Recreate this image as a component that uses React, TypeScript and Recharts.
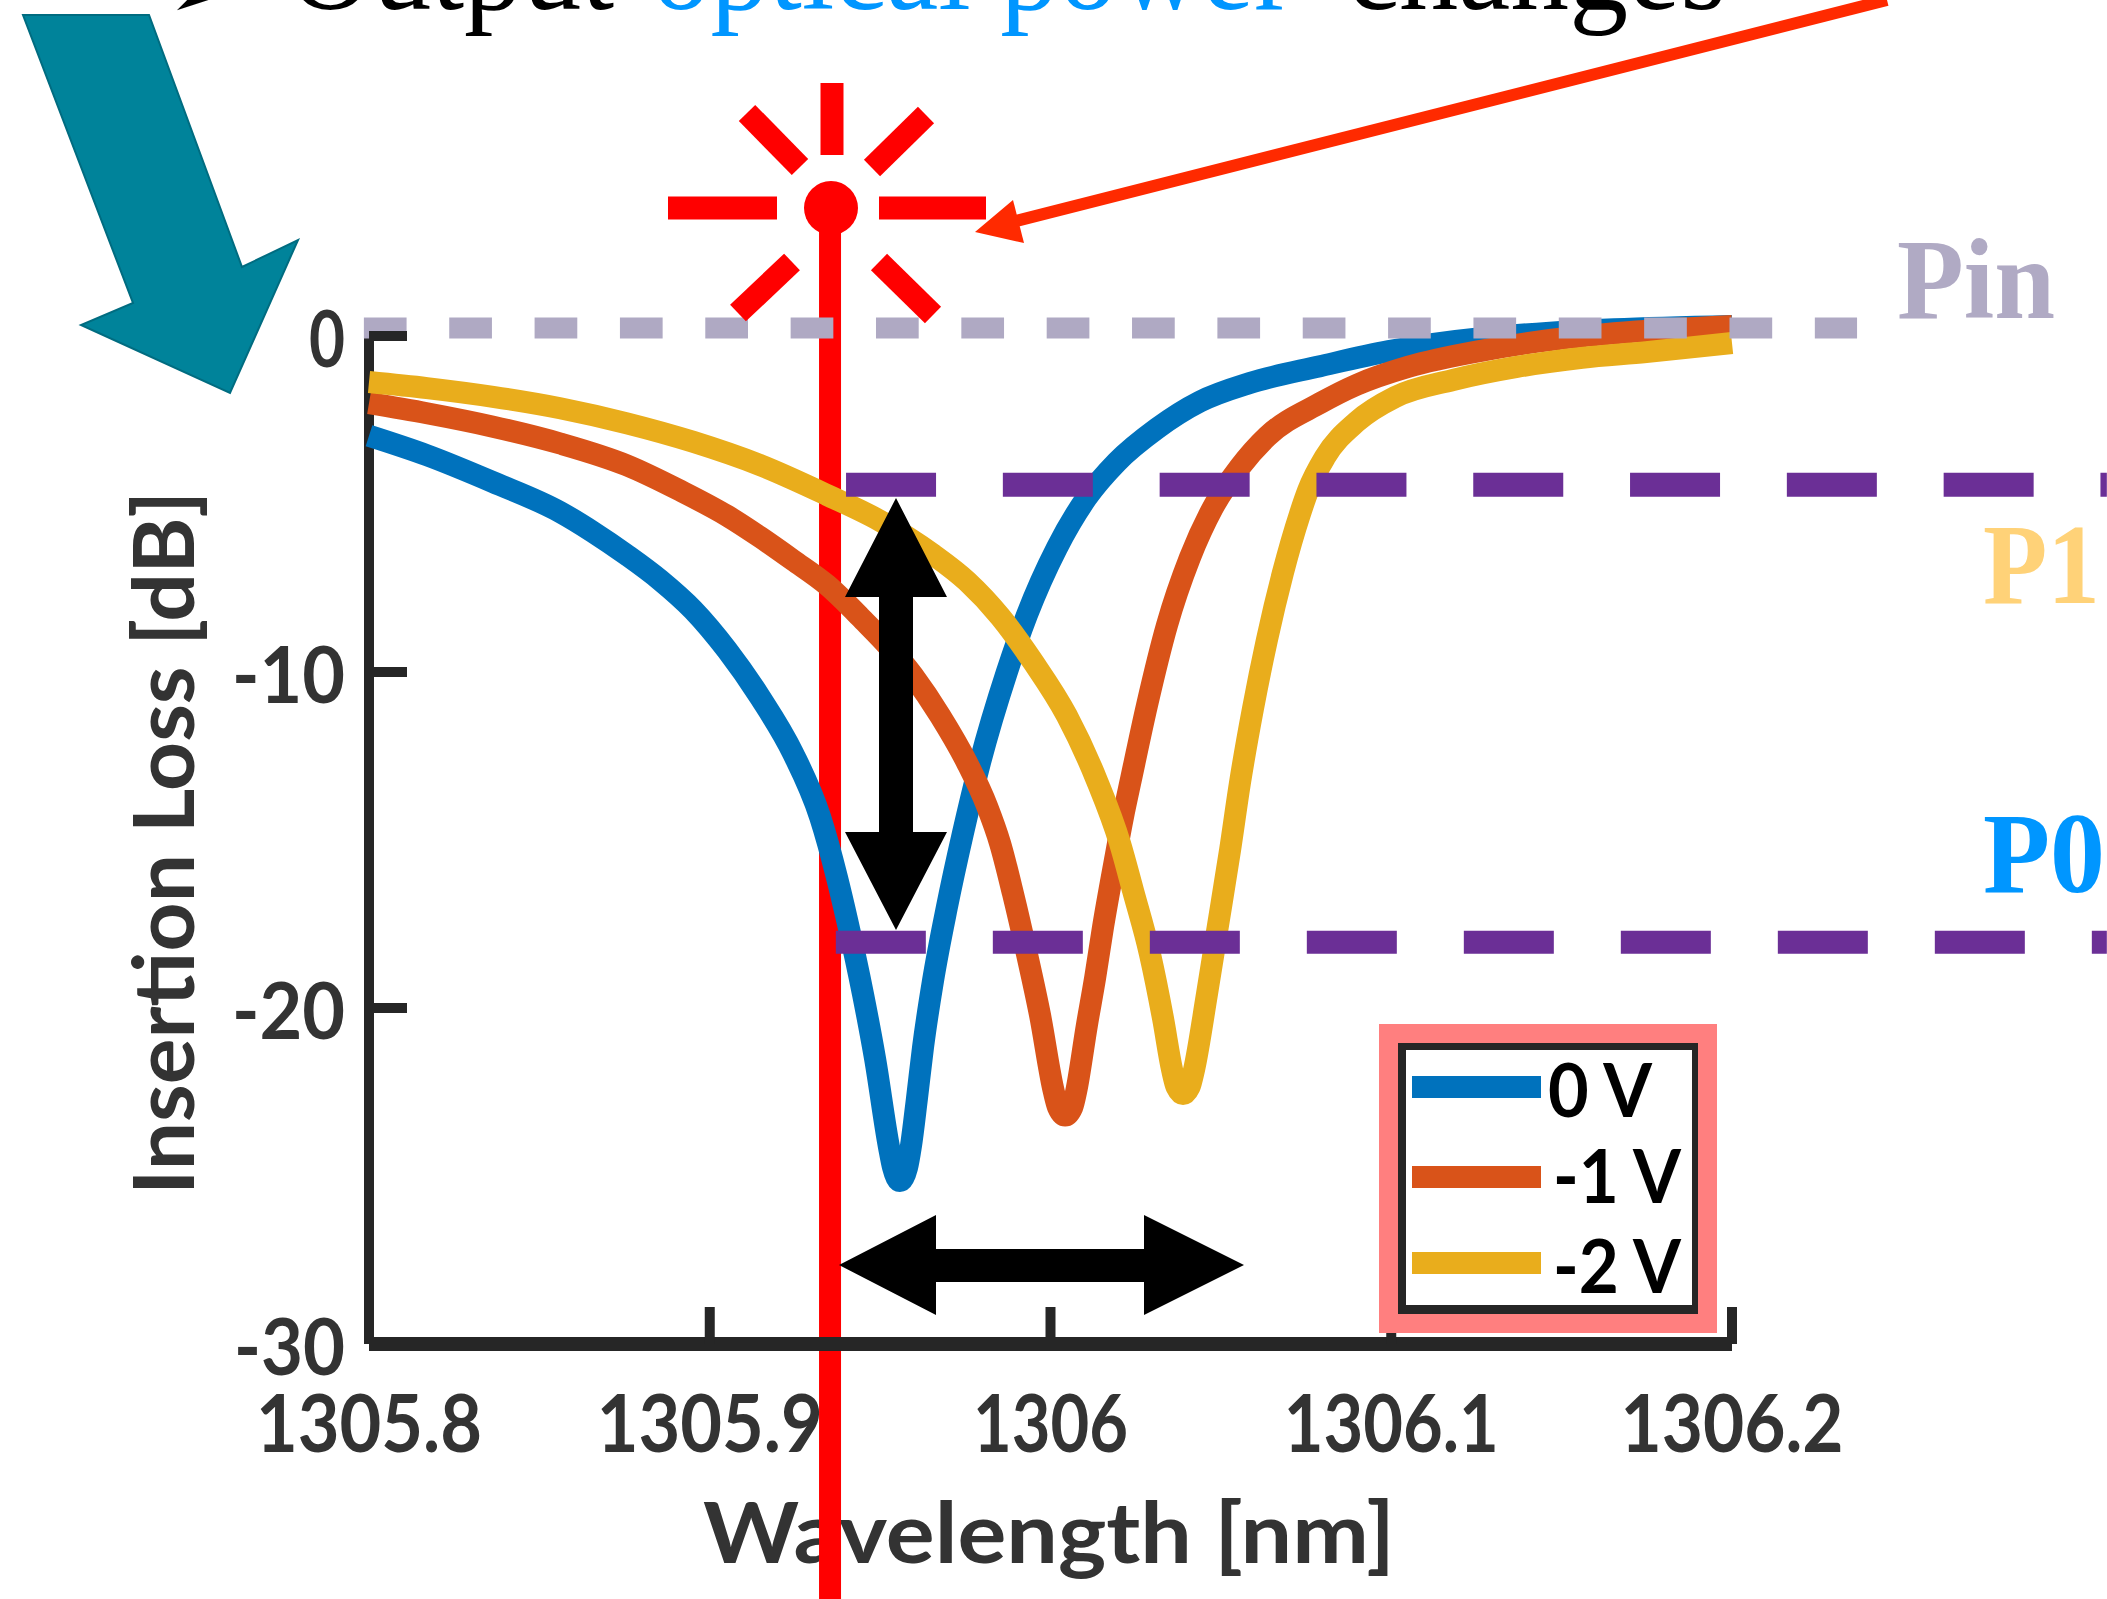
import React from 'react';
import { ComposedChart, Line, XAxis, YAxis, ReferenceLine, Legend } from 'recharts';

const blueX = [1305.8, 1305.817, 1305.8364, 1305.8561, 1305.8657, 1305.8757, 1305.8854, 1305.8951, 1305.9051, 1305.9147, 1305.9244, 1305.9324, 1305.9373, 1305.9403, 1305.945, 1305.9485, 1305.9526, 1305.9538, 1305.9558, 1305.9579, 1305.959, 1305.9608, 1305.9626, 1305.9655, 1305.9696, 1305.9743, 1305.9793, 1305.9872, 1305.9931, 1306.0019, 1306.0107, 1306.0195, 1306.0313, 1306.0439, 1306.0585, 1306.0791, 1306.0993, 1306.1275, 1306.1466, 1306.1654, 1306.2];
const blueY = [-2.97, -3.55, -4.35, -5.24, -5.83, -6.52, -7.26, -8.15, -9.35, -10.74, -12.41, -14.32, -16.1, -17.38, -19.6, -21.5, -24.14, -24.75, -25.15, -24.75, -24.14, -22.7, -21.16, -19.2, -17.0, -14.8, -12.7, -10.0, -8.3, -6.3, -4.8, -3.75, -2.75, -1.95, -1.4, -0.9, -0.45, -0.05, 0.1, 0.2, 0.3];
const orangeX = [1305.8, 1305.817, 1305.8364, 1305.8561, 1305.8757, 1305.8913, 1305.9051, 1305.9147, 1305.9244, 1305.9344, 1305.9441, 1305.9596, 1305.9676, 1305.9755, 1305.9814, 1305.9852, 1305.989, 1305.9931, 1305.9969, 1306.001, 1306.0022, 1306.0043, 1306.0064, 1306.0075, 1306.0107, 1306.0131, 1306.0154, 1306.0189, 1306.0213, 1306.0236, 1306.0283, 1306.0342, 1306.0409, 1306.0477, 1306.0556, 1306.0635, 1306.0791, 1306.0899, 1306.1049, 1306.1275, 1306.1466, 1306.1654, 1306.2];
const orangeY = [-2.0, -2.3, -2.7, -3.2, -3.85, -4.6, -5.35, -5.98, -6.67, -7.41, -8.36, -10.1, -11.3, -12.7, -14.0, -15.1, -16.6, -18.4, -20.2, -22.5, -22.95, -23.2, -22.95, -22.5, -20.5, -19.1, -17.6, -15.6, -14.3, -13.2, -11.0, -8.6, -6.6, -5.1, -3.9, -3.0, -2.0, -1.45, -0.92, -0.42, -0.12, 0.08, 0.3];
const yellowX = [1305.8, 1305.817, 1305.8364, 1305.8561, 1305.8757, 1305.8951, 1305.9147, 1305.9344, 1305.95, 1305.9655, 1305.9755, 1305.9852, 1305.9949, 1306.0048, 1306.0135, 1306.0204, 1306.0242, 1306.0292, 1306.033, 1306.0357, 1306.037, 1306.0389, 1306.0408, 1306.0421, 1306.0459, 1306.0489, 1306.0527, 1306.0556, 1306.0594, 1306.0635, 1306.0682, 1306.0732, 1306.0756, 1306.0806, 1306.0899, 1306.1011, 1306.1181, 1306.1369, 1306.156, 1306.1748, 1306.2];
const yellowY = [-1.37, -1.55, -1.81, -2.15, -2.6, -3.15, -3.84, -4.73, -5.5, -6.5, -7.3, -8.35, -9.7, -11.3, -13.2, -15.1, -16.5, -18.4, -20.3, -21.85, -22.35, -22.56, -22.35, -21.85, -19.6, -17.7, -15.3, -13.3, -11.1, -9.05, -7.05, -5.3, -4.6, -3.6, -2.55, -1.82, -1.31, -0.92, -0.65, -0.48, -0.21];

const seriesNames = ['0 V', '-1 V', '-2 V'];
const xTicks = [1305.8, 1305.9, 1306, 1306.1, 1306.2];
const yTicks = [0, -10, -20, -30];
const pinLevel = 0.24;
const p1Level = -4.43;
const p0Level = -18.04;
const operatingWavelength = 1305.9353;

const BLUE = '#0072BD';
const ORANGE = '#D95319';
const YELLOW = '#E9AD1C';
const AXIS = '#262626';
const SANS = 'Lato, sans-serif';
const SERIF = '"Liberation Serif", serif';

const zip = (xs: number[], ys: number[]) => xs.map((x, i) => ({ x, y: ys[i] }));

const xWidths: Record<string, number> = { '1305.8': 226, '1305.9': 226, '1306': 155, '1306.1': 215, '1306.2': 223 };
const yWidths: Record<string, number> = { '0': 36, '-10': 113, '-20': 113, '-30': 111 };

const XTick = (p: any) => {
  const v = String(p.payload.value);
  return (
    <g>
      <line x1={p.x} x2={p.x} y1={1344} y2={1307} stroke={AXIS} strokeWidth={10} />
      <text x={p.x} y={1452} textAnchor="middle" fontFamily={SANS} fontWeight={700} fontSize={80} fill="#333"
        textLength={xWidths[v]} lengthAdjust="spacingAndGlyphs">{v}</text>
    </g>
  );
};

const YTick = (p: any) => {
  const v = String(p.payload.value);
  return (
    <g>
      <line x1={369} x2={407} y1={p.y} y2={p.y} stroke={AXIS} strokeWidth={10} />
      <text x={345} y={p.y + 31} textAnchor="end" fontFamily={SANS} fontWeight={700} fontSize={78} fill="#333"
        textLength={yWidths[v]} lengthAdjust="spacingAndGlyphs">{v}</text>
    </g>
  );
};

const legendRows = [
  { lineY: 63, base: 93, tx: 169, tw: 104 },
  { lineY: 153, base: 179, tx: 174, tw: 128 },
  { lineY: 239, base: 269, tx: 174, tw: 128 },
];

const LegendBox = (p: any) => (
  <svg width={338} height={309} style={{ display: 'block' }}>
    <rect x={0} y={0} width={338} height={309} fill="#FF7F7F" />
    <rect x={19} y={19} width={300} height={271} fill="#262626" />
    <rect x={27} y={26} width={286} height={255} fill="#fff" />
    {(p.payload || []).map((it: any, i: number) => (
      <g key={it.value}>
        <rect x={33} y={legendRows[i].lineY - 11} width={129} height={22} fill={it.color} />
        <text x={legendRows[i].tx} y={legendRows[i].base} fontFamily={SANS} fontWeight={700} fontSize={74} fill="#000"
          textLength={legendRows[i].tw} lengthAdjust="spacingAndGlyphs">{it.value}</text>
      </g>
    ))}
  </svg>
);

const Overlay = () => (
  <svg width={2107} height={1599} style={{ position: 'absolute', left: 0, top: 0, pointerEvents: 'none' }}>
    <text x={163} y={22} fontFamily="DejaVu Sans" fontSize={125} fill="#000">➢</text>
    <text x={288} y={9} fontFamily={SERIF} fontSize={125} fill="#000" textLength={326} lengthAdjust="spacingAndGlyphs">Output</text>
    <text x={652} y={9} fontFamily={SERIF} fontSize={125} fill="#0096FF" textLength={641} lengthAdjust="spacingAndGlyphs">optical power</text>
    <text x={1347} y={9} fontFamily={SERIF} fontSize={125} fill="#000" textLength={379} lengthAdjust="spacingAndGlyphs">changes</text>

    <polygon points="23,15 149,15 242,267 298,240 230,393 81,325 133,303" fill="#00839A" stroke="#006C80" strokeWidth={2} />

    <line x1={1887} y1={0} x2={1012} y2={222} stroke="#FF2A00" strokeWidth={12} />
    <polygon points="975,232 1013,200 1024,243" fill="#FF2A00" />

    <g stroke="#FF0000" strokeWidth={23}>
      <line x1={832} y1={83} x2={832} y2={155} />
      <line x1={668} y1={208} x2={777} y2={208} />
      <line x1={879} y1={208} x2={986} y2={208} />
      <line x1={747} y1={113} x2={800} y2={167} />
      <line x1={926} y1={115} x2={872} y2={168} />
      <line x1={792} y1={262} x2={738} y2={313} />
      <line x1={879} y1={262} x2={933} y2={315} />
    </g>
    <circle cx={831} cy={208} r={27} fill="#FF0000" />

    <polygon points="896,498 947,597 913,597 913,832 947,832 896,930 845,832 879,832 879,597 845,597" fill="#000" />
    <polygon points="839,1265 936,1215 936,1249 1144,1249 1144,1215 1244,1265 1144,1315 1144,1282 936,1282 936,1315" fill="#000" />

    <text x={1897} y={318} fontFamily={SERIF} fontWeight={700} fontSize={114} fill="#B0AAC4" textLength={158} lengthAdjust="spacingAndGlyphs">Pin</text>
    <text x={1983} y={603} fontFamily={SERIF} fontWeight={700} fontSize={115} fill="#FFD278" textLength={117} lengthAdjust="spacingAndGlyphs">P1</text>
    <text x={1983} y={892} fontFamily={SERIF} fontWeight={700} fontSize={115} fill="#0096FF" textLength={122} lengthAdjust="spacingAndGlyphs">P0</text>
  </svg>
);

export default function App() {
  return (
    <div style={{ position: 'absolute', left: 0, top: 0, width: 2107, height: 1599, background: '#fff', overflow: 'hidden' }}>
      <ComposedChart width={2107} height={1599} margin={{ left: 368, right: 375, top: 302.4, bottom: 254 }}>
        <text x={1049} y={1563} textAnchor="middle" fontFamily={SANS} fontWeight={700} fontSize={84} fill="#333" textLength={692} lengthAdjust="spacingAndGlyphs">Wavelength [nm]</text>
        <text transform="translate(194,843) rotate(-90)" textAnchor="middle" fontFamily={SANS} fontWeight={700} fontSize={84} fill="#333" textLength={704} lengthAdjust="spacingAndGlyphs">Insertion Loss [dB]</text>
        <XAxis dataKey="x" type="number" domain={[1305.8, 1306.2]} ticks={xTicks} interval={0} height={1} tickSize={0} tickMargin={0}
          axisLine={{ stroke: AXIS, strokeWidth: 14 }} tickLine={false} tick={<XTick />} />
        <YAxis type="number" domain={[-30, 1]} ticks={yTicks} interval={0} width={1} tickSize={0} tickMargin={0}
          axisLine={false} tickLine={false} tick={<YTick />} />
        <ReferenceLine segment={[{ x: 1305.8, y: 0 }, { x: 1305.8, y: -30 }]} ifOverflow="visible" stroke={AXIS} strokeWidth={10} />
        <ReferenceLine segment={[{ x: operatingWavelength, y: 3.8 }, { x: operatingWavelength, y: -37.6 }]} ifOverflow="visible" stroke="#FF0000" strokeWidth={22} />
        <Line data={zip(blueX, blueY)} dataKey="y" name={seriesNames[0]} type="monotone" stroke={BLUE} strokeWidth={22} dot={false} strokeLinejoin="round" isAnimationActive={false} />
        <Line data={zip(orangeX, orangeY)} dataKey="y" name={seriesNames[1]} type="monotone" stroke={ORANGE} strokeWidth={22} dot={false} strokeLinejoin="round" isAnimationActive={false} />
        <Line data={zip(yellowX, yellowY)} dataKey="y" name={seriesNames[2]} type="monotone" stroke={YELLOW} strokeWidth={22} dot={false} strokeLinejoin="round" isAnimationActive={false} />
        <ReferenceLine segment={[{ x: 1305.7985, y: pinLevel }, { x: 1306.2367, y: pinLevel }]} ifOverflow="visible" stroke="#AFA9C3" strokeWidth={21} strokeDasharray="42.7 42.65" />
        <ReferenceLine segment={[{ x: 1305.94, y: p1Level }, { x: 1306.31, y: p1Level }]} ifOverflow="visible" stroke="#6B2F96" strokeWidth={24} strokeDasharray="90 66.8" />
        <ReferenceLine segment={[{ x: 1305.937, y: p0Level }, { x: 1306.31, y: p0Level }]} ifOverflow="visible" stroke="#6B2F96" strokeWidth={23} strokeDasharray="90 67" />
        <Legend layout="horizontal" verticalAlign="middle" align="center" itemSorter={null as any} content={<LegendBox />}
          wrapperStyle={{ left: 1379, top: 1024, width: 338, height: 309, bottom: 'auto', right: 'auto' }} />
      </ComposedChart>
      <Overlay />
    </div>
  );
}
